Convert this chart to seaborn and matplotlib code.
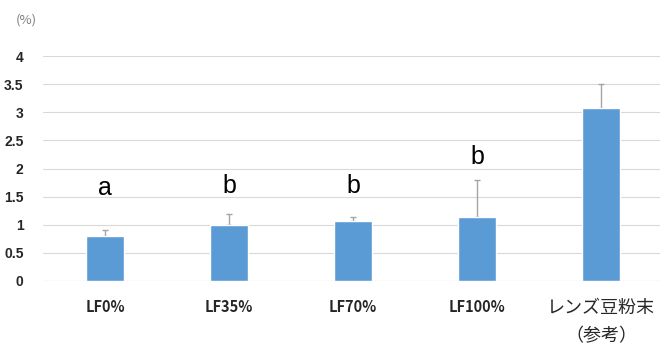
import matplotlib
matplotlib.use("Agg")
import matplotlib.pyplot as plt
import seaborn as sns
import pandas as pd
import numpy as np

categories = ["LF0%", "LF35%", "LF70%", "LF100%", "レンズ豆粉末\n（参考）"]
values = [0.80, 0.99, 1.07, 1.13, 3.08]
errors = [0.11, 0.20, 0.07, 0.66, 0.43]
letters = ["a", "b", "b", "b", ""]
letter_y = [1.65, 1.69, 1.69, 2.21, None]
yticks = [0, 0.5, 1, 1.5, 2, 2.5, 3, 3.5, 4]
ytick_labels = ["0", "0.5", "1", "1.5", "2", "2.5", "3", "3.5", "4"]

sns.set_theme(style="white")
plt.rcParams["font.family"] = ["Noto Sans CJK JP", "DejaVu Sans"]

df = pd.DataFrame({"group": categories, "value": values})

fig = plt.figure(figsize=(6.6, 3.47), dpi=100)
ax = fig.add_axes([43 / 660, 1 - 281 / 347, 620 / 660, 225 / 347])

sns.barplot(data=df, x="group", y="value", color="#5B9BD5", width=0.31,
            errorbar=None, ax=ax, saturation=1, zorder=3)

# upper-only error bars; the lower cap sits behind the bar
x = np.arange(len(categories))
ax.errorbar(x, values, yerr=[np.zeros(len(errors)), errors], fmt="none",
            ecolor="#A5A5A5", elinewidth=1, capsize=2.5, capthick=1, zorder=2)

for xi, lab, ly in zip(x, letters, letter_y):
    if lab:
        ax.text(xi, ly, lab, ha="center", va="center", fontsize=18,
                color="black", family=["Liberation Sans", "DejaVu Sans"])

ax.set_ylim(0, 4)
ax.set_xlim(-0.5, len(categories) - 0.5)
ax.set_yticks(yticks)
ax.set_yticklabels(ytick_labels, fontsize=10, fontweight="bold",
                   family=["Liberation Sans", "DejaVu Sans"])
ax.yaxis.grid(True, color="#D9D9D9", linewidth=0.8, zorder=0)
ax.set_axisbelow(True)
for s in ["top", "right", "left", "bottom"]:
    ax.spines[s].set_visible(False)
ax.axhline(0, color="#D9D9D9", linewidth=0.8, zorder=1)
ax.tick_params(axis="y", length=0, pad=14)
ax.tick_params(axis="x", length=0, pad=13)
ax.set_xticklabels(categories, fontsize=10.5, fontweight="bold",
                   linespacing=1.75)
xt = ax.get_xticklabels()
xt[-1].set_fontweight("normal")
xt[-1].set_fontsize(13)
ax.set_xlabel("")
ax.set_ylabel("")

fig.text(26 / 660, 1 - 20 / 347, "(%)", ha="center", va="center",
         fontsize=9.5, color="#7F7F7F")

fig.savefig("out.png", dpi=100)
